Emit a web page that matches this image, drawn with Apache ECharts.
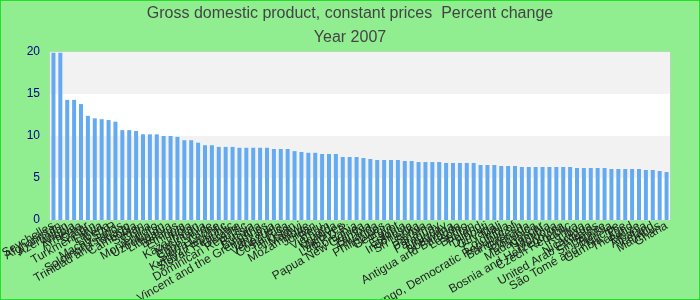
<!DOCTYPE html>
<html>
<head>
<meta charset="utf-8">
<script src="https://cdn.jsdelivr.net/npm/echarts@6/dist/echarts.min.js"></script>
<style>
html,body{margin:0;padding:0;background:#90ee90;}
#chart{width:700px;height:300px;box-sizing:border-box;border:1px solid #22e022;}
</style>
</head>
<body>
<div id="chart"></div>
<script>
const countries = [
"Seychelles","Afghanistan","Azerbaijan","Angola","Armenia","Qatar","Turkmenistan","Latvia","Liberia","Macao SAR",
"Solomon Islands","Trinidad and Tobago","Cambodia","Sudan","China","Montenegro","Uzbekistan","Lithuania","Belarus","Ethiopia",
"India","Kazakhstan","Mauritania","Cape Verde","Sierra Leone","Kyrgyz Republic","Slovak Republic","Ukraine","Dominican Republic","Russia",
"Bulgaria","St. Vincent and the Grenadines","Tanzania","Venezuela","Costa Rica","Tajikistan","Malawi","Mozambique","Jordan","Peru",
"Vietnam","Uganda","Maldives","Lao P.D.R.","Romania","Papua New Guinea","Zambia","Rwanda","Philippines","Georgia",
"Egypt","Estonia","Indonesia","Sri Lanka","Serbia","Panama","Paraguay","Uruguay","Botswana","Antigua and Barbuda",
"Lesotho","Bhutan","Poland","Djibouti","Guyana","Mali","Colombia","Congo, Democratic Republic of","Bangladesh","Grenada",
"Dominica","Madagascar","Namibia","Moldova","Bosnia and Herzegovina","Czech Republic","Kenya","Libya","Nicaragua","United Arab Emirates",
"Singapore","Tunisia","São Tomé and Príncipe","Gambia, The","Thailand","Belize","Albania","Iceland","Mauritius","Ghana"
];
const growth = [
19.9,19.9,14.3,14.3,13.8,12.4,12.1,12.0,11.9,11.7,
10.7,10.7,10.6,10.2,10.2,10.2,10.0,10.0,9.9,9.5,
9.5,9.2,8.9,8.9,8.7,8.7,8.7,8.6,8.6,8.6,
8.6,8.6,8.45,8.45,8.45,8.2,8.1,8.0,8.0,7.86,
7.86,7.86,7.5,7.5,7.5,7.38,7.26,7.14,7.14,7.14,
7.14,7.02,7.02,6.9,6.9,6.9,6.9,6.79,6.79,6.79,
6.79,6.79,6.55,6.55,6.55,6.43,6.43,6.43,6.31,6.31,
6.31,6.31,6.31,6.31,6.31,6.31,6.19,6.19,6.19,6.19,
6.19,6.07,6.07,6.07,6.07,6.07,5.95,5.95,5.83,5.71
];
const yTicks = {min:0, max:20, interval:5};
const titleText = "Gross domestic product, constant prices  Percent change";
const subtitleText = "Year 2007";

const chart = echarts.init(document.getElementById('chart'), null, {renderer:'canvas'});
chart.setOption({
  backgroundColor:'#90ee90',
  animation:false,
  title:{
    text:titleText, subtext:subtitleText, left:'center', top:0, itemGap:8,
    textStyle:{fontFamily:'Liberation Sans, Arial, sans-serif', fontSize:16, fontWeight:'normal', color:'#444'},
    subtextStyle:{fontFamily:'Liberation Sans, Arial, sans-serif', fontSize:16, color:'#444'}
  },
  grid:{left:49, right:29, top:51, bottom:79, outerBoundsMode:'none', containLabel:false,
        show:true, backgroundColor:'#fff', borderColor:'#ccc', borderWidth:1},
  xAxis:{
    type:'category', data:countries,
    axisLine:{show:false}, axisTick:{show:false},
    axisLabel:{interval:0, rotate:30, fontSize:12, color:'#222', margin:5, fontFamily:'Liberation Sans, Arial, sans-serif'}
  },
  yAxis:{
    type:'value', min:yTicks.min, max:yTicks.max, interval:yTicks.interval,
    axisLine:{show:false}, axisTick:{show:false},
    splitLine:{show:false},
    splitArea:{show:true, areaStyle:{color:['#ffffff','#f2f2f2']}},
    axisLabel:{color:'#00008b', fontSize:12, margin:10, fontFamily:'Liberation Sans, Arial, sans-serif'}
  },
  series:[{type:'bar', data:growth, barWidth:'58%', itemStyle:{color:'#64aaf0'}}]
});
</script>
</body>
</html>
